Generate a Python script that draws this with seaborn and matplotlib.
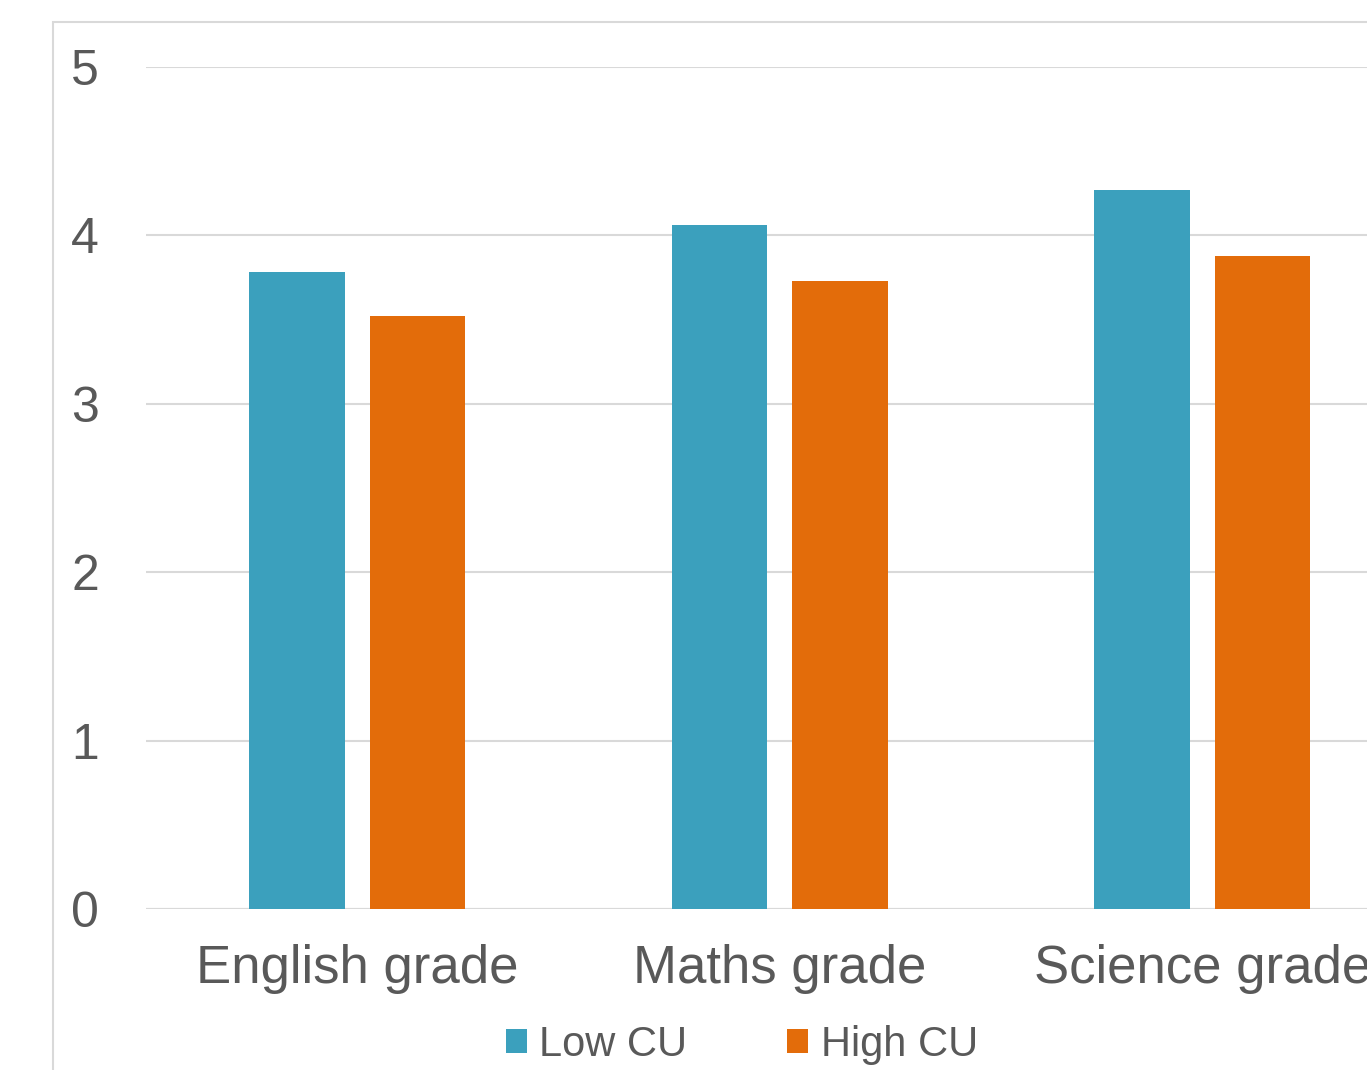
import matplotlib
matplotlib.use("Agg")
import matplotlib.pyplot as plt
import matplotlib.patches as mpatches
import seaborn as sns
import pandas as pd

categories = ["English grade", "Maths grade", "Science grade"]
series_names = ["Low CU", "High CU"]
low_cu = [3.78, 4.06, 4.27]
high_cu = [3.52, 3.73, 3.88]
y_ticks = [0, 1, 2, 3, 4, 5]
colors = ["#3BA0BD", "#E36C0A"]

df = pd.DataFrame({
    "category": categories * 2,
    "group": [series_names[0]] * 3 + [series_names[1]] * 3,
    "value": low_cu + high_cu,
})

sns.set_theme(style="white")
plt.rcParams["font.family"] = ["Liberation Sans", "DejaVu Sans"]

W, H = 1367, 1070
fig = plt.figure(figsize=(W / 100, H / 100), dpi=100)
ax = fig.add_axes([146 / W, 1 - 909 / H, (1413.5 - 146) / W, (909 - 67) / H])

sns.barplot(data=df, x="category", y="value", hue="group", order=categories,
            hue_order=series_names, palette=colors, width=0.57, gap=0.21,
            linewidth=0, saturation=1, ax=ax, legend=False, errorbar=None)

ax.set_xlim(-0.5, 2.5)
ax.set_ylim(0, 5)
ax.set_yticks(y_ticks)
ax.set_yticklabels([str(t) for t in y_ticks])
ax.set_xlabel("")
ax.set_ylabel("")
for s in ax.spines.values():
    s.set_visible(False)
ax.yaxis.grid(True, color="#D9D9D9", linewidth=1.5)
ax.set_axisbelow(True)
ax.axhline(0, color="#D9D9D9", linewidth=1.5, zorder=0.5)
ax.tick_params(axis="y", length=0, pad=34, labelsize=36, labelcolor="#595959")
ax.tick_params(axis="x", length=0, pad=25, labelsize=38, labelcolor="#595959")

# outer chart border (partially cropped)
border = mpatches.Rectangle((53 / W, -0.5), 2.0, (1 - 22 / H) + 0.5,
                            transform=fig.transFigure, fill=False,
                            edgecolor="#D9D9D9", linewidth=1.5, clip_on=False)
fig.add_artist(border)

handles = [mpatches.Patch(facecolor=c, edgecolor="none", label=n)
           for c, n in zip(colors, series_names)]
fig.legend(handles=handles, loc="center", bbox_to_anchor=(742 / W, 1 - 1045 / H),
           ncol=2, frameon=False, fontsize=30, labelcolor="#595959",
           handlelength=0.5, handleheight=0.5, handletextpad=0.3,
           columnspacing=2.4, borderpad=0)

fig.savefig("out.png", dpi=100)
